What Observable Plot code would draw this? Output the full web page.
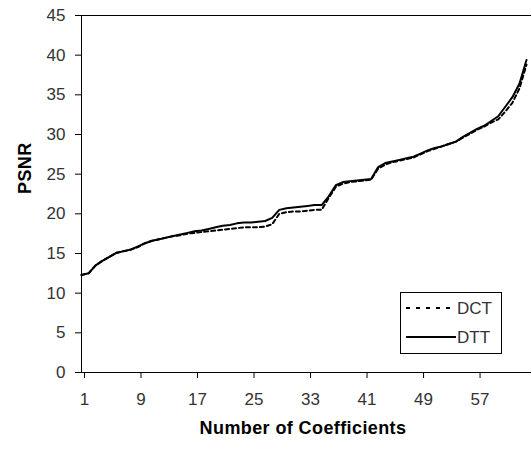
<!DOCTYPE html>
<html>
<head>
<meta charset="utf-8">
<script src="https://cdn.jsdelivr.net/npm/d3@7"></script>
<script src="https://cdn.jsdelivr.net/npm/@observablehq/plot@0.6"></script>
<style>
  html, body { margin: 0; padding: 0; background: #fff; }
  #wrap { position: relative; width: 531px; height: 449px; overflow: hidden; }
  #legend { position: absolute; left: 0; top: 0; }
</style>
</head>
<body>
<div id="wrap"></div>
<script>
// Number of coefficients (x), 1..64
const coefficients = [
  1,2,3,4,5,6,7,8,9,10,11,12,13,14,15,16,17,18,19,20,21,22,23,24,25,26,27,28,29,30,31,32,
  33,34,35,36,37,38,39,40,41,42,43,44,45,46,47,48,49,50,51,52,53,54,55,56,57,58,59,60,61,62,63,64
];
// PSNR for DTT (solid)
const dttPSNR = [
  12.3,12.5,13.5,14.1,14.6,15.1,15.3,15.5,15.9,16.3,16.6,16.8,17.0,17.2,17.4,17.6,
  17.8,17.9,18.1,18.3,18.5,18.6,18.8,18.9,18.9,19.0,19.1,19.5,20.5,20.7,20.8,20.9,
  21.0,21.1,21.1,22.2,23.6,24.0,24.1,24.2,24.3,24.4,25.9,26.4,26.6,26.8,27.0,27.2,
  27.6,28.0,28.3,28.5,28.8,29.1,29.7,30.2,30.7,31.1,31.7,32.3,33.5,34.7,36.4,39.4
];
// PSNR for DCT (dashed)
const dctPSNR = [
  12.3,12.5,13.5,14.1,14.6,15.1,15.3,15.5,15.8,16.3,16.6,16.8,17.0,17.2,17.3,17.5,
  17.6,17.7,17.8,17.9,18.0,18.1,18.2,18.3,18.3,18.3,18.4,18.7,20.0,20.2,20.3,20.3,
  20.4,20.5,20.5,22.0,23.4,23.8,24.0,24.1,24.2,24.3,25.7,26.2,26.5,26.7,26.9,27.1,
  27.5,27.9,28.2,28.5,28.8,29.1,29.6,30.1,30.6,31.0,31.5,31.9,32.9,34.0,35.8,38.8
];
const xTicks = [1, 9, 17, 25, 33, 41, 49, 57];
const yTicks = [0, 5, 10, 15, 20, 25, 30, 35, 40, 45];
const seriesNames = ["DCT", "DTT"];

const dct = coefficients.map((c, i) => ({x: c, y: dctPSNR[i]}));
const dtt = coefficients.map((c, i) => ({x: c, y: dttPSNR[i]}));

const font = "'Liberation Sans', Arial, sans-serif";

const chart = Plot.plot({
  width: 531,
  height: 449,
  marginLeft: 81,
  marginRight: 5,
  marginTop: 15,
  marginBottom: 77,
  style: {fontFamily: font, background: "#fff", overflow: "visible"},
  x: {domain: [1, 64]},
  y: {domain: [0, 45]},
  marks: [
    Plot.ruleX([1], {stroke: "#000", strokeWidth: 1}),
    Plot.ruleY([0], {x1: 1, x2: 64.8, stroke: "#000", strokeWidth: 1}),
    Plot.ruleY([45], {x1: 1, x2: 64.8, stroke: "#000", strokeWidth: 1}),
    Plot.axisY({ticks: yTicks, tickSize: 6, tickPadding: 10, fontSize: 17, label: null, fill: "#333"}),
    Plot.axisX({ticks: xTicks, tickSize: 6, tickPadding: 14, fontSize: 17, dx: 3, label: null, fill: "#333"}),
    Plot.line(dct, {x: "x", y: "y", stroke: "#000", strokeWidth: 2, strokeDasharray: "4,3"}),
    Plot.line(dtt, {x: "x", y: "y", stroke: "#000", strokeWidth: 2}),
    Plot.text(["PSNR"], {frameAnchor: "left", dx: -56, rotate: -90, fontSize: 18, fontWeight: "bold", fill: "#000"}),
    Plot.text(["Number of Coefficients"], {frameAnchor: "bottom", dy: 61, dx: -1, fontSize: 18, fontWeight: "bold", fill: "#000"})
  ]
});
chart.querySelectorAll("text").forEach(t => {
  if (t.textContent === "Number of Coefficients" || t.textContent === "PSNR") t.style.letterSpacing = "0.4px";
});
document.getElementById("wrap").appendChild(chart);

// Legend
const ns = "http://www.w3.org/2000/svg";
const lg = document.createElementNS(ns, "svg");
lg.setAttribute("id", "legend");
lg.setAttribute("width", 531);
lg.setAttribute("height", 449);
lg.style.fontFamily = font;
const box = document.createElementNS(ns, "rect");
box.setAttribute("x", 400.5); box.setAttribute("y", 292.5);
box.setAttribute("width", 101); box.setAttribute("height", 61);
box.setAttribute("fill", "#fff"); box.setAttribute("stroke", "#000");
lg.appendChild(box);
seriesNames.forEach((name, i) => {
  const cy = 308 + i * 29;
  const ln = document.createElementNS(ns, "line");
  ln.setAttribute("x1", 406); ln.setAttribute("x2", 456);
  ln.setAttribute("y1", cy); ln.setAttribute("y2", cy);
  ln.setAttribute("stroke", "#000"); ln.setAttribute("stroke-width", 2);
  if (name === "DCT") ln.setAttribute("stroke-dasharray", "4,6");
  lg.appendChild(ln);
  const tx = document.createElementNS(ns, "text");
  tx.setAttribute("x", 457); tx.setAttribute("y", cy);
  tx.setAttribute("dy", "0.36em");
  tx.setAttribute("font-size", 17);
  tx.setAttribute("fill", "#333");
  tx.textContent = name;
  lg.appendChild(tx);
});
document.getElementById("wrap").appendChild(lg);
</script>
</body>
</html>
